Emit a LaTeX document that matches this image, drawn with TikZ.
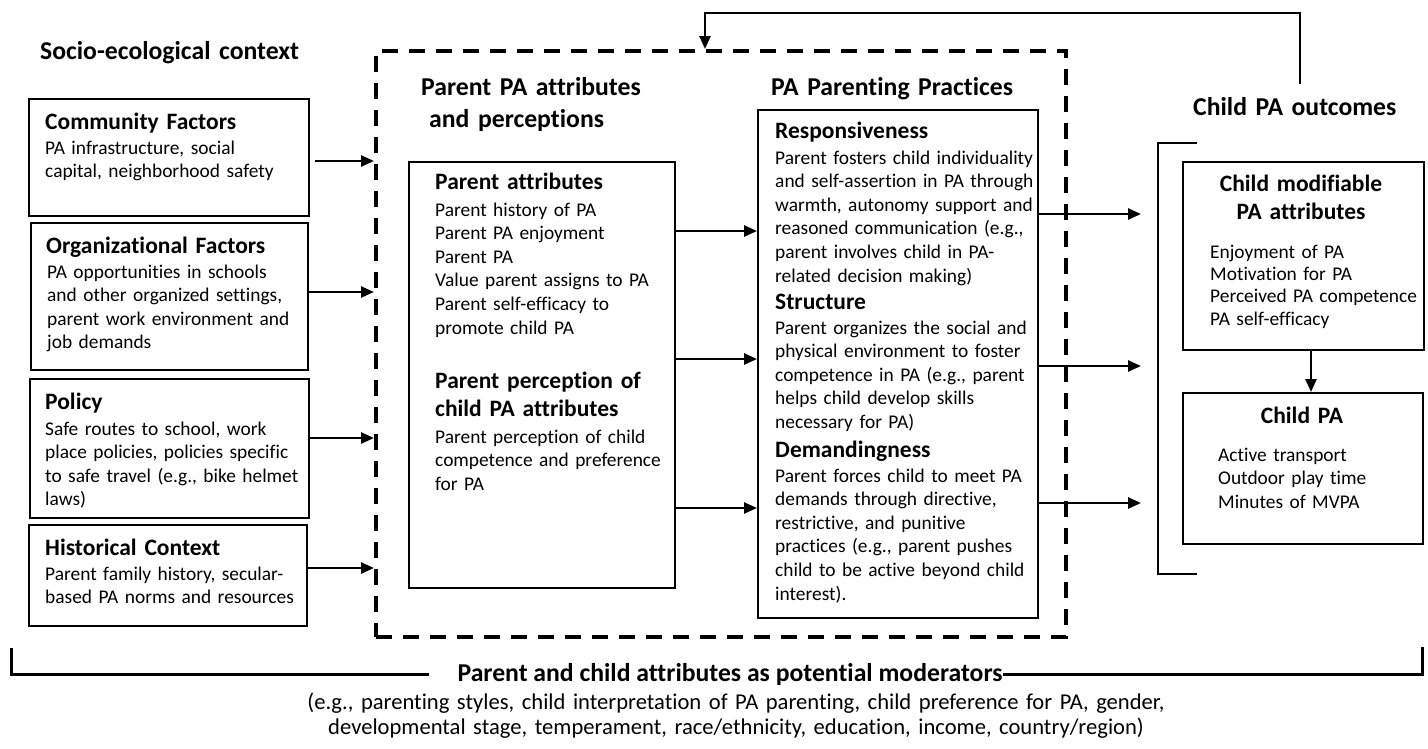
\documentclass[tikz,border=0pt]{standalone}
\usepackage{fontspec}
\setmainfont{Carlito}[Ligatures={NoCommon}]
\usetikzlibrary{arrows.meta}
\begin{document}
\begin{tikzpicture}[x=1pt,y=-1pt,
  boxst/.style={draw, line width=1.8pt, inner sep=0pt, anchor=north west},
  thinbox/.style={draw, line width=1.5pt, inner sep=0pt, anchor=north west},
  dbox/.style={draw, line width=4pt, dash pattern=on 16pt off 11pt, inner sep=0pt, anchor=north west},
  body/.style={anchor=base west, inner sep=0pt, text width=400pt, align=left, font=\fontsize{19.4}{23.6}\selectfont},
  bodyb/.style={anchor=base west, inner sep=0pt, text width=400pt, align=left, font=\fontsize{19.4}{22.4}\selectfont},
  head/.style={anchor=base west, inner sep=0pt, text width=400pt, align=left, font=\fontsize{23.5}{28}\selectfont\bfseries},
  headc/.style={anchor=base, inner sep=0pt, text width=300pt, align=center, font=\fontsize{23.5}{28}\selectfont\bfseries},
  title/.style={anchor=base west, inner sep=0pt, text width=400pt, align=left, font=\fontsize{25.7}{32}\selectfont\bfseries},
  arr/.style={line width=2.5pt, -{Triangle[length=13pt,width=11pt]}},
  lin/.style={line width=2pt}
]
\useasboundingbox (0,0) rectangle (1428,748);

% titles
\node[title] (tsoc) at (40,59) {Socio-ecological context};
\node[title] (tpar) at (421,95) {Parent PA attributes\\\hspace*{8pt}and perceptions};
\node[title] (tprac) at (771,95) {PA Parenting Practices};
\node[title] (tout) at (1193,115) {Child PA outcomes};

% left boxes
\node[boxst, minimum width=280pt, minimum height=117pt] (comm) at (28,98) {};
\node[head] (hcomm) at (45,129) {Community Factors};
\node[body] (bcomm) at (45,154) {PA infrastructure, social\\capital, neighborhood safety};

\node[boxst, minimum width=277pt, minimum height=147pt] (org) at (30,222) {};
\node[head] (horg) at (46,253) {Organizational Factors};
\node[body] (borg) at (47,278) {PA opportunities in schools\\and other organized settings,\\parent work environment and\\job demands};

\node[boxst, minimum width=279pt, minimum height=139pt] (pol) at (29,378) {};
\node[head] (hpol) at (45,409) {Policy};
\node[body] (bpol) at (45,435) {Safe routes to school, work\\place policies, policies specific\\to safe travel (e.g., bike helmet\\laws)};

\node[boxst, minimum width=278pt, minimum height=101pt] (hist) at (28,524) {};
\node[head] (hhist) at (45,555) {Historical Context};
\node[body] (bhist) at (45,580) {Parent family history, secular-\\based PA norms and resources};

% dashed box
\node[dbox, minimum width=690pt, minimum height=586pt] (dash) at (374,49) {};

% parent box
\node[thinbox, minimum width=266pt, minimum height=426pt] (pbox) at (408,161) {};
\node[head] (hpa) at (435,189) {Parent attributes};
\node[body] (bpa) at (435,216) {Parent history of PA\\Parent PA enjoyment\\Parent PA\\Value parent assigns to PA\\Parent self-efficacy to\\promote child PA};
\node[head] (hpp) at (435,388) {Parent perception of\\child PA attributes};
\node[body] (bpp) at (435,443) {Parent perception of child\\competence and preference\\for PA};

% practices box
\node[thinbox, minimum width=280pt, minimum height=508pt] (prac) at (757,109) {};
\node[head] (hres) at (775,138) {Responsiveness};
\node[body] (bres) at (775,164) {Parent fosters child individuality\\and self-assertion in PA through\\warmth, autonomy support and\\reasoned communication (e.g.,\\parent involves child in PA-\\related decision making)};
\node[head] (hstr) at (775,309) {Structure};
\node[body] (bstr) at (775,334) {Parent organizes the social and\\physical environment to foster\\competence in PA (e.g., parent\\helps child develop skills\\necessary for PA)};
\node[head] (hdem) at (775,457) {Demandingness};
\node[body] (bdem) at (775,482) {Parent forces child to meet PA\\demands through directive,\\restrictive, and punitive\\practices (e.g., parent pushes\\child to be active beyond child\\interest).};

% outcome boxes
\node[boxst, minimum width=241pt, minimum height=188pt] (cmod) at (1182,161) {};
\node[headc] (hcmod) at (1301,191) {Child modifiable\\PA attributes};
\node[bodyb] (bcmod) at (1210,258) {Enjoyment of PA\\Motivation for PA\\Perceived PA competence\\PA self-efficacy};

\node[boxst, minimum width=240pt, minimum height=151pt] (cpa) at (1182,392) {};
\node[headc] (hcpa) at (1302,423) {Child PA};
\node[body] (bcpa) at (1218,461) {Active transport\\Outdoor play time\\Minutes of MVPA};

% bracket around outcomes
\draw[lin] (1197,143) -| (1158,574) -- (1197,574);

% left arrows
\coordinate (a1) at (315,161);
\coordinate (a2) at (307,292);
\coordinate (a3) at (308,438);
\coordinate (a4) at (307,568);
\foreach \c in {a1,a2,a3,a4} \draw[arr] (\c) -- (\c -| dash.west);

% parent -> practices arrows
\foreach \yy in {231,359,508} \draw[arr] (pbox.east |- 0,\yy) -- (prac.west |- 0,\yy);

% practices -> outcomes arrows
\coordinate (o1) at (1141,214);
\coordinate (o2) at (1141,366);
\coordinate (o3) at (1141,503);
\foreach \c in {o1,o2,o3} \draw[arr] (prac.east |- \c) -- (\c);

% modifiable -> child PA
\draw[arr] (cmod.south -| 1311,0) -- (cpa.north -| 1311,0);

% feedback arrow
\coordinate (fb1) at (1300,84);
\coordinate (fbtop) at (705,13);
\draw[arr] (fb1) |- (fbtop) -- (fbtop |- dash.north);

% bottom bracket
\node[anchor=base, inner sep=0pt, font=\fontsize{25.7}{30}\selectfont\bfseries] (modlab) at (730,681) {Parent and child attributes as potential moderators};
\coordinate (bl) at (11,648);
\coordinate (br) at (1422,647);
\draw[line width=3pt] (bl) |- ([xshift=-28pt]modlab.west);
\draw[line width=3pt] (modlab.east) -| (br);
\node[anchor=base, inner sep=0pt, text width=1100pt, align=center, font=\fontsize{22.6}{25}\selectfont] (modtxt) at (736,709) {(e.g., parenting styles, child interpretation of PA parenting, child preference for PA, gender,\\developmental stage, temperament, race/ethnicity, education, income, country/region)};
\end{tikzpicture}
\end{document}
